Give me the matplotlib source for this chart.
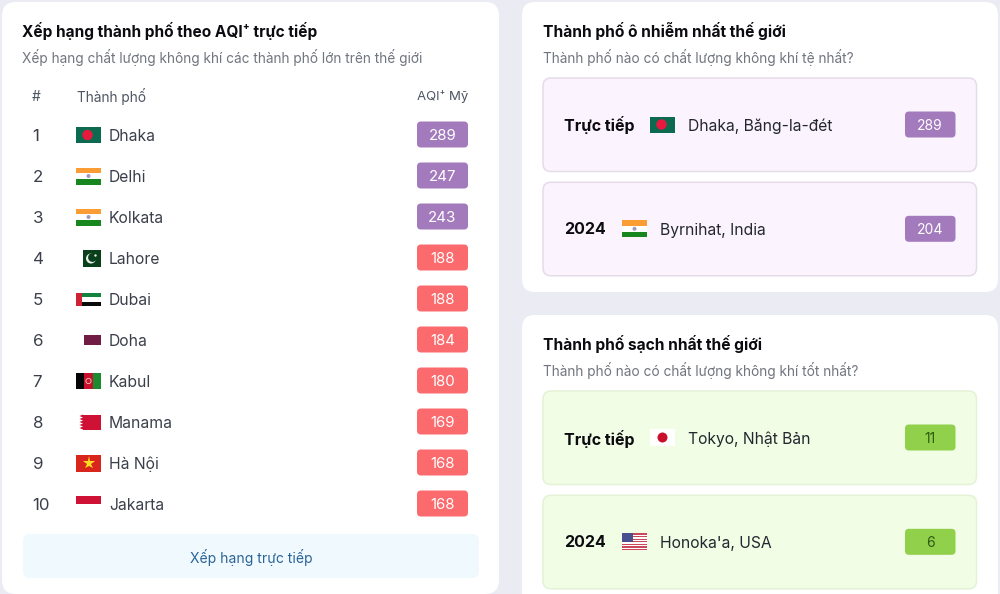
import matplotlib
matplotlib.use("Agg")
import matplotlib.pyplot as plt
from matplotlib.patches import FancyBboxPatch, Rectangle, Circle, Polygon

plt.rcParams['font.family'] = ['Inter', 'DejaVu Sans']

# ==============================
# Datos
# ==============================
ranks = [1, 2, 3, 4, 5, 6, 7, 8, 9, 10]
cities = ["Dhaka", "Delhi", "Kolkata", "Lahore", "Dubai", "Doha", "Kabul", "Manama", "Hà Nội", "Jakarta"]
aqi = [289, 247, 243, 188, 188, 184, 180, 169, 168, 168]
flags = ["bd", "in", "in", "pk", "ae", "qa", "af", "bh", "vn", "id"]

worst_labels = ["Trực tiếp", "2024"]
worst_cities = ["Dhaka, Băng-la-đét", "Byrnihat, India"]
worst_aqi = [289, 204]
worst_flags = ["bd", "in"]

clean_labels = ["Trực tiếp", "2024"]
clean_cities = ["Tokyo, Nhật Bản", "Honoka'a, USA"]
clean_aqi = [11, 6]
clean_flags = ["jp", "us"]

PURPLE = "#a37abc"
RED = "#fb6b6e"
GREEN = "#90d04b"

fig = plt.figure(figsize=(10, 5.94), dpi=100, facecolor="#ebecf3")
ax = fig.add_axes([0, 0, 1, 1])
ax.set_xlim(0, 1000)
ax.set_ylim(594, 0)
ax.axis("off")


def box(x0, y0, x1, y1, color, r=8, edge="none", lw=0, z=1):
    ax.add_patch(FancyBboxPatch((x0 + r, y0 + r), x1 - x0 - 2 * r, y1 - y0 - 2 * r,
                                boxstyle="round,pad=%s,rounding_size=%s" % (r, r),
                                fc=color, ec=edge, lw=lw, zorder=z))


def rect(x, y, w, h, color):
    ax.add_patch(Rectangle((x, y), w, h, fc=color, ec="none", zorder=3))


def draw_flag(code, x, yc):
    # x es el borde izquierdo de la bandera ancha (25 px)
    if code == "bd":
        rect(x, yc - 8, 25, 16, "#0b6a4f")
        ax.add_patch(Circle((x + 11.5, yc), 5.2, fc="#e8193f", ec="none", zorder=4))
    elif code == "in":
        rect(x, yc - 8.5, 25, 5.5, "#fb9d35")
        rect(x, yc - 3, 25, 6, "#ffffff")
        rect(x, yc + 3, 25, 5.5, "#17861f")
        ax.add_patch(Circle((x + 12.5, yc), 2, fc="#9a9ac4", ec="none", zorder=4))
    elif code == "pk":
        rect(x + 6.5, yc - 8.5, 18.5, 17, "#0a3f1c")
        ax.add_patch(Circle((x + 15, yc + 0.5), 5, fc="#e8efe8", ec="none", zorder=4))
        ax.add_patch(Circle((x + 16.5, yc - 0.5), 4.4, fc="#0a3f1c", ec="none", zorder=4))
        ax.add_patch(Circle((x + 19.5, yc - 2.5), 1.2, fc="#e8efe8", ec="none", zorder=4))
    elif code == "ae":
        rect(x + 6, yc - 6.5, 19, 4.5, "#13823f")
        rect(x + 6, yc - 2, 19, 4.5, "#ffffff")
        rect(x + 6, yc + 2.5, 19, 4, "#0a0a0a")
        rect(x, yc - 6.5, 6, 13, "#cc2233")
    elif code == "qa":
        rect(x + 8, yc - 5, 17, 10, "#701c45")
    elif code == "af":
        rect(x, yc - 8, 8.3, 16, "#050505")
        rect(x + 8.3, yc - 8, 8.4, 16, "#c8102e")
        rect(x + 16.7, yc - 8, 8.3, 16, "#1c8a2e")
        ax.add_patch(Circle((x + 12.5, yc), 2.6, fc="none", ec="#eeb8a8", lw=0.7, zorder=4))
    elif code == "bh":
        rect(x + 7, yc - 7.5, 18, 15, "#ce1135")
        ax.add_patch(Polygon([(x + 7, yc - 7.5), (x + 3.5, yc - 6), (x + 7, yc - 4.5), (x + 3.5, yc - 3),
                              (x + 7, yc - 1.5), (x + 3.5, yc), (x + 7, yc + 1.5), (x + 3.5, yc + 3),
                              (x + 7, yc + 4.5), (x + 3.5, yc + 6), (x + 7, yc + 7.5)],
                             fc="#ce1135", ec="none", zorder=3))
    elif code == "vn":
        rect(x, yc - 8.5, 25, 17, "#d9261c")
        ax.plot([x + 12.5], [yc], marker="*", ms=9.5, color="#ffdd22", mew=0, zorder=4)
    elif code == "id":
        rect(x, yc - 8.5, 25, 8.5, "#ce1135")
    elif code == "jp":
        rect(x, yc - 8.5, 25, 17, "#ffffff")
        ax.add_patch(Circle((x + 12.5, yc), 5, fc="#c8102e", ec="none", zorder=4))
    elif code == "us":
        rect(x, yc - 8.5, 25, 17, "#ffffff")
        for i in range(7):
            rect(x, yc - 8.5 + i * 2.62, 25, 1.31, "#c9485b")
        rect(x, yc - 8.5, 11, 9, "#4a4f8f")


def badge(x0, yc, w, val, color, txt="#ffffff", fs=11):
    box(x0, yc - 13, x0 + w, yc + 13, color, r=4, z=2)
    ax.text(x0 + w / 2, yc, str(val), color=txt, fontsize=fs, ha="center", va="center_baseline", zorder=5)


# ==============================
# Panel izquierdo
# ==============================
box(2, 2, 499, 594, "#ffffff", r=14)
ax.text(22.5, 29.5, "Xếp hạng thành phố theo AQI⁺ trực tiếp", fontsize=11.1, weight="bold",
        color="#0b0b10", va="center_baseline")
ax.text(22.5, 56, "Xếp hạng chất lượng không khí các thành phố lớn trên thế giới", fontsize=9.85,
        color="#70757f", va="center_baseline")
ax.text(32, 95.5, "#", fontsize=10, color="#4e5563", va="center_baseline")
ax.text(77, 95, "Thành phố", fontsize=9.9, color="#4e5563", va="center_baseline")
ax.text(468, 95, "AQI⁺ Mỹ", fontsize=9.5, color="#4e5563", ha="right", va="center_baseline")

for i in range(len(ranks)):
    yc = 135 + i * 41
    ax.text(32.5, yc, str(ranks[i]), fontsize=12.2, color="#3a3f4a", va="center_baseline")
    ax.text(109, yc, cities[i], fontsize=11.3, color="#3a3f4a", va="center_baseline")
    draw_flag(flags[i], 76, yc)
    badge(417, yc - 0.5, 51, aqi[i], PURPLE if aqi[i] > 200 else RED, fs=10.8)

box(23, 534, 479, 578, "#f0f9fe", r=7)
ax.text(251, 555.5, "Xếp hạng trực tiếp", fontsize=10.05, color="#2a6496", ha="center", va="center_baseline")


# ==============================
# Paneles derechos
# ==============================
def side_panel(y0, y1, title, sub, labels, names, vals, codes, fill, edge, color, txt):
    box(522, y0, 998, y1, "#ffffff", r=13)
    ax.text(543, y0 + 27.5, title, fontsize=11.2, weight="bold", color="#0b0b10", va="center_baseline")
    ax.text(543, y0 + 54, sub, fontsize=9.85, color="#70757f", va="center_baseline")
    for j in range(2):
        top = y0 + 76 + j * 104.3
        yc = top + 47
        box(543, top, 976.5, top + 93.5, fill, r=8, edge=edge, lw=1.1)
        ax.text(564.5, yc - 1, labels[j], fontsize=11.5, weight="bold", color="#0b0b10", va="center_baseline")
        # la etiqueta "2024" es más corta, bandera y nombre se corren a la izquierda
        shift = 0 if j == 0 else -28
        draw_flag(codes[j], 650 + shift, yc - 0.5)
        ax.text(687.5 + shift, yc - 0.5, names[j], fontsize=11.25, color="#24272e", va="center_baseline")
        badge(905, yc - 0.5, 50.5, vals[j], color, txt=txt, fs=10)


side_panel(2, 292, "Thành phố ô nhiễm nhất thế giới", "Thành phố nào có chất lượng không khí tệ nhất?",
           worst_labels, worst_cities, worst_aqi, worst_flags, "#fbf4fe", "#e6dbe9", PURPLE, "#ffffff")
side_panel(315, 610, "Thành phố sạch nhất thế giới", "Thành phố nào có chất lượng không khí tốt nhất?",
           clean_labels, clean_cities, clean_aqi, clean_flags, "#f2fde6", "#e4f2d6", GREEN, "#2f5a14")

fig.savefig("out.png", dpi=100, facecolor=fig.get_facecolor())
